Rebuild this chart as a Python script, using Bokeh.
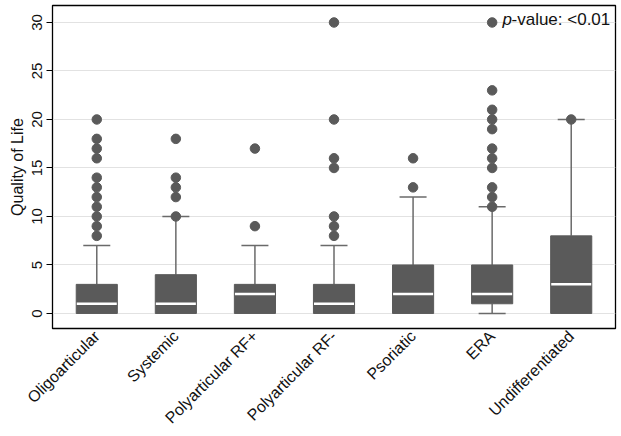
import math
from bokeh.plotting import figure
from bokeh.models import Range1d, FactorRange, Label, FixedTicker
from bokeh.embed import file_html
from bokeh.resources import INLINE

categories = ["Oligoarticular", "Systemic", "Polyarticular RF+", "Polyarticular RF-",
              "Psoriatic", "ERA", "Undifferentiated"]
q1 = [0, 0, 0, 0, 0, 1, 0]
median = [1, 1, 2, 1, 2, 2, 3]
q3 = [3, 4, 3, 3, 5, 5, 8]
lower = [0, 0, 0, 0, 0, 0, 0]
upper = [7, 10, 7, 7, 12, 11, 20]
outliers = {
    "Oligoarticular": [8, 9, 10, 11, 12, 13, 14, 16, 17, 18, 20],
    "Systemic": [10, 12, 13, 14, 18],
    "Polyarticular RF+": [9, 17],
    "Polyarticular RF-": [8, 9, 10, 15, 16, 20, 30],
    "Psoriatic": [13, 16],
    "ERA": [11, 12, 13, 15, 16, 17, 19, 20, 21, 23, 30],
    "Undifferentiated": [20],
}
y_ticks = [0, 5, 10, 15, 20, 25, 30]

FONT = "Liberation Sans"
BOX = "#5a5a5a"
WHISK = "#6a6a6a"
TXT = "#111111"

p = figure(width=621, height=436, output_backend="svg", toolbar_location=None,
           x_range=FactorRange(factors=categories, range_padding=0.06,
                               range_padding_units="absolute"),
           y_range=Range1d(-1.55, 31.75),
           min_border_left=52, min_border_right=6, min_border_top=5,
           min_border_bottom=108)

p.outline_line_color = "black"
p.outline_line_width = 1.3
p.xgrid.grid_line_color = None
p.ygrid.grid_line_color = "#e2e2e2"
p.ygrid.grid_line_width = 1.2
p.background_fill_color = "white"
p.border_fill_color = "white"

# whiskers
p.segment(x0=categories, y0=q3, x1=categories, y1=upper, line_color=WHISK, line_width=1.5)
p.segment(x0=categories, y0=lower, x1=categories, y1=q1, line_color=WHISK, line_width=1.5)
# caps
cap_up = [(c, u) for c, u, t in zip(categories, upper, q3) if u > t]
p.scatter(x=[c for c, _ in cap_up], y=[u for _, u in cap_up], marker="dash", size=27,
          line_color=WHISK, line_width=1.5)
cap_lo = [(c, l) for c, l, b in zip(categories, lower, q1) if l < b]
p.scatter(x=[c for c, _ in cap_lo], y=[l for _, l in cap_lo], marker="dash", size=27,
          line_color=WHISK, line_width=1.5)
# boxes
p.vbar(x=categories, bottom=q1, top=q3, width=0.52, fill_color=BOX, line_color=BOX)
# medians
p.scatter(x=categories, y=median, marker="dash", size=40, line_color="white", line_width=2.5)
# outliers
ox, oy = [], []
for c in categories:
    for v in outliers[c]:
        ox.append(c)
        oy.append(v)
p.scatter(x=ox, y=oy, size=9.5, fill_color=BOX, line_color=BOX)

# axes
p.yaxis.ticker = FixedTicker(ticks=y_ticks)
p.yaxis.axis_label = "Quality of Life"
p.yaxis.axis_label_text_font = FONT
p.yaxis.axis_label_text_font_size = "16px"
p.yaxis.axis_label_text_font_style = "normal"
p.yaxis.axis_label_text_color = TXT
p.yaxis.axis_label_standoff = 4
p.yaxis.major_label_orientation = "vertical"
p.yaxis.major_label_text_font = FONT
p.yaxis.major_label_text_font_size = "15px"
p.yaxis.major_label_text_color = TXT
p.yaxis.major_label_standoff = 4
p.yaxis.major_tick_out = 6
p.yaxis.major_tick_in = 0
p.yaxis.minor_tick_line_color = None
p.yaxis.axis_line_color = "black"
p.yaxis.major_tick_line_color = "black"

p.xaxis.major_label_orientation = math.pi / 4
p.xaxis.major_label_text_font = FONT
p.xaxis.major_label_text_font_size = "16px"
p.xaxis.major_label_text_color = TXT
p.xaxis.major_tick_line_color = None
p.xaxis.major_tick_out = 0
p.xaxis.major_tick_in = 0
p.xaxis.major_label_standoff = 5
p.xaxis.axis_line_color = "black"

p.add_layout(Label(x=5.63, y=30.3, text="p", text_font=FONT, text_font_size="17px",
                   text_font_style="italic", text_align="left", text_baseline="alphabetic",
                   text_color=TXT))
p.add_layout(Label(x=5.745, y=30.3, text="-value: <0.01", text_font=FONT,
                   text_font_size="17px", text_align="left", text_baseline="alphabetic",
                   text_color=TXT))

open("out.html", "w").write(file_html(p, INLINE))
